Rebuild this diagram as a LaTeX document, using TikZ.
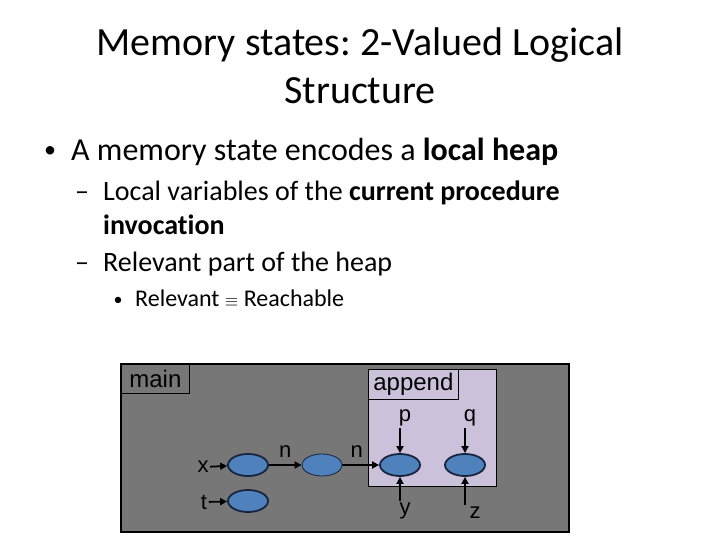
\documentclass[tikz,border=0pt]{standalone}
\usepackage{fontspec}
\setmainfont{Carlito}[Ligatures={NoCommon}]
\newfontfamily\arialfont{Liberation Sans}
\usetikzlibrary{shapes.geometric,arrows.meta}

\definecolor{slidegray}{HTML}{777777}
\definecolor{framelilac}{HTML}{CCC1DA}
\definecolor{cellblue}{HTML}{4F81BD}
\definecolor{cellrim}{HTML}{17253F}

\frenchspacing
\begin{document}
\begin{tikzpicture}[
    x=1pt, y=-1pt,
    >={Triangle[length=7pt,width=7pt]},
    every node/.style={inner sep=0pt},
    txt/.style={anchor=base west},
    dot/.style={anchor=base},
    cell/.style={ellipse, draw=cellrim, line width=1.8pt, fill=cellblue,
                 minimum width=40pt, minimum height=22pt},
    ptr/.style={->, line width=1.8pt},
    varlbl/.style={font=\arialfont\fontsize{22}{26}\selectfont, inner sep=1.5pt},
    framelbl/.style={draw=black, line width=0.8pt, anchor=north west,
                     font=\arialfont\fontsize{24}{28}\selectfont}
]
\useasboundingbox (0,0) rectangle (720,540);

% ============================================================
% Titel
% ============================================================
\node[anchor=base, font=\fontsize{40}{48}\selectfont] (title1) at (360,56)
    {Memory states: 2-Valued Logical};
\node[anchor=base, font=\fontsize{40}{48}\selectfont] (title2) at (360,104)
    {Structure};

% ============================================================
% Aufzaehlung
% ============================================================
\node[dot, font=\fontsize{24}{29}\selectfont] (dot1) at (50,158) {•};
\node[txt, font=\fontsize{32}{38}\selectfont] (item1) at (71,161)
    {A memory state encodes a \textbf{local heap}};

\node[dot, font=\fontsize{28}{34}\selectfont] (dash1) at (82,201) {–};
\node[txt, font=\fontsize{28}{34}\selectfont] (item2) at (103,201)
    {Local variables of the \textbf{current procedure}};
\node[txt, font=\fontsize{28}{34}\selectfont] (item2b) at (103,235)
    {\textbf{invocation}};

\node[dot, font=\fontsize{28}{34}\selectfont] (dash2) at (82,271) {–};
\node[txt, font=\fontsize{28}{34}\selectfont] (item3) at (103,271)
    {Relevant part of the heap};

\node[dot, font=\fontsize{18}{22}\selectfont] (dot2) at (118,305) {•};
\node[txt, font=\fontsize{24}{29}\selectfont] (item4) at (135,306)
    {Relevant {\fontsize{18}{22}\selectfont$\equiv$} Reachable};

% ============================================================
% Rahmen: main und append
% ============================================================
\filldraw[fill=slidegray, draw=black, line width=1.4pt] (121,364) rectangle (569,532);
\filldraw[fill=framelilac, draw=black, line width=0.8pt] (368,369) rectangle (496,486);

\node[framelbl, minimum width=68pt, minimum height=29pt] (mainlbl) at (121,364) {main};
\node[framelbl, minimum width=90pt, minimum height=30pt, fill=framelilac]
    (appendlbl) at (368,369) {append};

% ============================================================
% Heap-Zellen
% ============================================================
\node[cell] (hx) at (248,465) {};
\node[cell, line width=0.8pt] (hmid) at (322,465) {};
\node[cell] (hp) at (400,465) {};
\node[cell] (hq) at (465,465) {};
\node[cell] (ht) at (248,501) {};

% ============================================================
% Variablen
% ============================================================
\node[varlbl] (xl) at (203,467) {x};
\node[varlbl] (tl) at (204,502) {t};
\node[varlbl] (pl) at (405,418) {p};
\node[varlbl] (ql) at (470,418) {q};
\node[varlbl] (yl) at (405,511) {y};
\node[varlbl] (zl) at (475,513) {z};

\draw[ptr] (xl) -- (hx);
\draw[ptr] (tl) -- (ht);
\draw[ptr] (hp.north |- pl.south) -- (hp.north);
\draw[ptr] (hq.north |- ql.south) -- (hq.north);
\draw[ptr] (hp.south |- yl.north) -- (hp.south);
\draw[ptr] (hq.south |- zl.north) -- (hq.south);

% ============================================================
% n-Kanten
% ============================================================
\draw[ptr] (hx) -- (hmid) node[varlbl, midway, above=5pt] (n1) {n};
\draw[ptr] (hmid) -- (hp) node[varlbl, midway, above=5pt, xshift=-4pt] (n2) {n};

\end{tikzpicture}
\end{document}
